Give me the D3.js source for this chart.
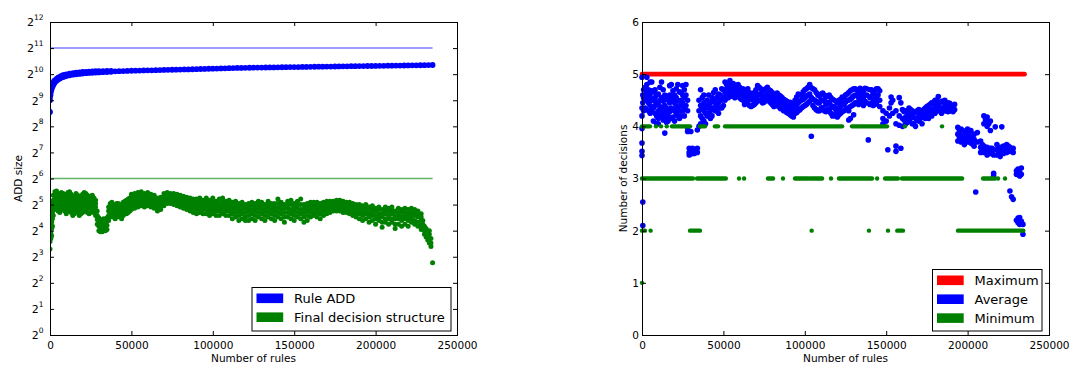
<!DOCTYPE html>
<html>
<head>
<meta charset="utf-8">
<script src="https://cdn.jsdelivr.net/npm/d3@7"></script>
<style>
  body { margin: 0; background: #fff; }
  svg { display: block; font-family: "DejaVu Sans", sans-serif; }
</style>
</head>
<body>
<svg id="chart" width="1071" height="365"></svg>
<script>
// ---- data (rules in thousands) ----
const ruleTicks = [0, 50000, 100000, 150000, 200000, 250000];
const addExponents = [0, 1, 2, 3, 4, 5, 6, 7, 8, 9, 10, 11, 12];
const decisionTicks = [0, 1, 2, 3, 4, 5, 6];

// reference lines on the left panel
const ruleAddLimit = 2048;
const finalLimit = 64;
const limitEndK = 235;

// Rule ADD size: [rules(k), [sizes]]
const ruleAdd = [
  [0, [375, 512, 560, 610]], [0.3, [590, 660]], [0.6, [640, 700]], [1, [690, 745]], [1.5, [735, 790]],
  [2, [770, 820]], [2.5, [800, 850]], [3, [825, 870]], [4, [860, 905]], [5, [890, 935]],
  [6, [915, 955]], [7, [935, 975]], [8, [950, 995]], [9, [965, 1005]], [10, [975, 1020]],
  [12, [995, 1040]], [14, [1010, 1055]], [16, [1020, 1065]], [18, [1030, 1075]], [20, [1040, 1085]],
  [22, [1050, 1090]], [24, [1058, 1096]], [26, [1062, 1100]], [28, [1068, 1106]], [30, [1072, 1110]],
  [32.5, [1080, 1112]], [35, [1084, 1116]], [37.5, [1090, 1118]], [40, [1105]], [42.5, [1108]],
  [45, [1112]], [47.5, [1116]], [50, [1122]], [52.5, [1124]], [55, [1128]], [57.5, [1131]],
  [60, [1133]], [62.5, [1135]], [65, [1139]], [67.5, [1142]], [70, [1146]], [72.5, [1148]],
  [75, [1151]], [77.5, [1155]], [80, [1158]], [82.5, [1161]], [85, [1163]], [87.5, [1167]],
  [90, [1170]], [92.5, [1174]], [95, [1177]], [97.5, [1182]], [100, [1186]], [102.5, [1189]],
  [105, [1194]], [107.5, [1197]], [110, [1200]], [112.5, [1203]], [115, [1208]], [117.5, [1210]],
  [120, [1212]], [122.5, [1215]], [125, [1216]], [127.5, [1219]], [130, [1220]], [132.5, [1223]],
  [135, [1224]], [137.5, [1226]], [140, [1229]], [142.5, [1230]], [145, [1232]], [147.5, [1235]],
  [150, [1236]], [152.5, [1238]], [155, [1241]], [157.5, [1242]], [160, [1244]], [162.5, [1247]],
  [165, [1248]], [167.5, [1250]], [170, [1253]], [172.5, [1254]], [175, [1256]], [177.5, [1259]],
  [180, [1260]], [182.5, [1262]], [185, [1265]], [187.5, [1266]], [190, [1268]], [192.5, [1271]],
  [195, [1272]], [197.5, [1273]], [200, [1276]], [202.5, [1277]], [205, [1279]], [207.5, [1282]],
  [210, [1283]], [212.5, [1285]], [215, [1288]], [217.5, [1289]], [220, [1291]], [222.5, [1294]],
  [225, [1296]], [227.5, [1298]], [230, [1301]], [232.5, [1303]], [235, [1306]]
];

// Final decision structure size: [rules(k), [sizes]]
const finalStruct = [
  [0, [9.8, 12, 13.5, 15]], [0.5, [13, 15, 17.5, 21]], [1, [14, 17, 20, 24]], [1.5, [18, 22, 26, 30, 34]],
  [2, [24, 28, 32, 36, 41]], [3, [28, 32, 36, 40, 45]], [4, [29, 33, 37, 41, 46]], [5, [27, 31, 35, 39, 43]],
  [6, [26, 30, 34, 38, 42]], [7, [28, 32, 35, 39, 44]], [8, [29, 32, 36, 40, 43]], [9, [27, 30, 34, 38, 42]],
  [10, [25, 29, 33, 37, 41]], [11, [27, 31, 35, 39, 44]], [12, [28, 32, 36, 40, 45]], [13, [26, 30, 34, 38, 42]],
  [14, [24, 28, 31, 35, 39]], [15, [25, 29, 32, 36, 40]], [16, [27, 31, 35, 39, 43]], [17, [26, 30, 34, 38, 41]],
  [18, [24, 28, 31, 35, 38]], [19, [25, 29, 33, 37, 40]], [20, [26, 30, 34, 38, 42]], [21, [28, 32, 36, 40, 44]],
  [22, [27, 31, 35, 39, 43]], [23, [26, 30, 33, 37, 41]], [24, [25, 29, 32, 36, 39]], [25, [26, 30, 34, 37, 40]],
  [26, [27, 30, 33, 37, 41]], [27, [26, 29, 32, 35, 38]], [28, [24, 27, 30, 33, 36]], [29, [19, 21.5, 24, 27]],
  [30, [16, 18, 20, 22.5]], [31, [15.5, 17.5, 19.5, 21.5]], [32, [15.5, 17, 19, 21]], [33, [16, 18, 20, 22]],
  [34, [16, 17.5, 19.5, 21.5]], [35, [16.5, 18.5, 20.5, 22.5]], [36, [21, 24, 27, 30]], [37, [23, 26, 29, 33]],
  [38, [24, 27, 30, 34]], [39, [23, 26, 29, 32]], [40, [22, 25, 28, 31]], [41, [23, 26, 29, 33]],
  [42, [24, 27, 30, 33]], [43, [23, 26, 29, 32]], [44, [22, 25, 28, 31]], [45, [24, 27, 30, 34]],
  [46, [25, 28, 31, 35]], [47, [25, 28, 32, 36]], [48, [26, 29, 33, 37]], [49, [27, 30, 34, 38]],
  [50, [28, 31, 34, 38, 42]], [52, [29, 32, 35, 39, 43]], [54, [30, 33, 36, 40, 44]], [56, [31, 34, 37, 41, 45]],
  [58, [30, 33, 36, 40, 43]], [60, [31, 34, 37, 40, 44]], [62, [30, 33, 36, 39, 42]], [64, [29, 32, 35, 38, 41]],
  [66, [27, 29, 32, 35, 38]], [68, [28, 30, 33, 36, 39]], [70, [31, 34, 37, 40, 43]], [72, [33, 35, 38, 41, 44]],
  [74, [33, 35, 38, 41, 43]], [76, [32, 35, 37, 40, 43]], [78, [31, 34, 36, 39, 42]], [80, [30, 33, 35, 38, 41]],
  [82, [29, 32, 34, 37, 40]], [84, [28, 31, 33, 36, 39]], [86, [27, 30, 32, 35, 38]], [88, [26, 29, 31, 34, 37]],
  [90, [25, 28, 31, 34, 37]], [92, [26, 29, 32, 35, 38]], [94, [25, 28, 30, 33, 36]], [96, [25, 28, 31, 34, 38]],
  [98, [24, 27, 30, 33, 36]], [100, [25, 28, 31, 34, 38]], [102, [24, 27, 29, 32, 35]], [104, [24, 27, 30, 33, 37]],
  [106, [25, 28, 31, 34, 38]], [108, [24, 27, 29, 32, 35]], [110, [24, 27, 30, 33, 36]], [112, [22, 25, 28, 31, 34]],
  [114, [23, 26, 29, 32, 35]], [116, [21, 24, 27, 30, 33]], [118, [22, 25, 28, 31, 34]], [120, [21, 23, 26, 29, 32]],
  [122, [21, 24, 27, 30, 33]], [124, [22, 25, 28, 31, 34]], [126, [21, 24, 27, 30, 33]], [128, [23, 26, 29, 32, 35]],
  [130, [22, 25, 28, 31, 34]], [132, [21, 24, 27, 29, 32]], [134, [23, 26, 29, 32, 35]], [136, [22, 25, 28, 31, 33]],
  [138, [21, 24, 27, 30, 33]], [140, [23, 26, 29, 33, 37]], [142, [22, 25, 28, 31, 34]], [144, [20, 23, 26, 29, 32]],
  [146, [23, 26, 29, 32, 35]], [148, [22, 25, 28, 32, 36]], [150, [21, 24, 27, 30, 33]], [152, [23, 26, 29, 32, 35]],
  [154, [22, 25, 28, 32, 37]], [156, [20, 23, 26, 29, 32]], [158, [21, 24, 27, 30, 33]], [160, [23, 26, 28, 31, 34]],
  [162, [24, 26, 29, 32, 34]], [164, [23, 26, 28, 31, 34]], [166, [22, 25, 28, 30, 33]], [168, [24, 27, 29, 32, 34]],
  [170, [25, 28, 30, 32, 35]], [172, [26, 28, 31, 33, 35]], [174, [27, 29, 31, 33, 35]], [176, [27, 29, 31, 34, 36]],
  [178, [27, 29, 32, 34, 36]], [180, [26, 28, 31, 33, 35]], [182, [26, 28, 30, 32, 34]], [184, [25, 27, 30, 32, 34]],
  [186, [24, 26, 29, 31, 33]], [188, [23, 25, 28, 30, 32]], [190, [22, 25, 27, 30, 32]], [192, [21, 24, 26, 29, 31]],
  [194, [22, 25, 27, 30, 32]], [196, [20, 23, 25, 28, 30]], [198, [21, 24, 26, 28, 31]], [200, [19, 22, 24, 27, 29]],
  [202, [21, 23, 25, 28, 30]], [204, [17.5, 20, 23, 25, 28]], [206, [20, 22, 25, 27, 30]], [208, [19, 22, 24, 27, 29]],
  [210, [20, 22, 25, 27, 30]], [212, [17, 19, 22, 24, 27]], [214, [19, 22, 24, 26, 29]], [216, [18, 21, 23, 26, 28]],
  [218, [19, 22, 24, 26, 29]], [220, [18, 21, 23, 25, 28]], [222, [20, 22, 24, 26, 29]], [224, [19, 21, 24, 26, 28]],
  [226, [18, 20, 23, 25, 27]], [228, [16.5, 18.5, 21, 23, 25]], [229, [17, 19, 21]], [230, [14.5, 16, 18]],
  [231, [13.5, 15, 17]], [232, [12.5, 14, 15.5]], [233, [11.5, 13, 14.5, 16]], [234, [10.5, 11.5, 13]], [235, [6.8]]
];

// Maximum number of decisions
const maxDecisions = [[0, 5], [235, 5]];

// Average number of decisions: [rules(k), [values]]
const avgDecisions = [
  [0, [4.94, 4.35, 4.2, 3.96, 3.68, 3.52, 3.44]], [0.5, [2.55, 2.1, 4.6, 4.45]], [1, [4.7, 4.55, 4.3]],
  [2, [4.75, 4.6, 4.5, 4.35]], [3, [4.94, 4.8, 4.65, 4.55]], [4, [4.7, 4.6, 4.45, 4.3]],
  [5, [4.85, 4.62, 4.55, 4.4, 4.25]], [6, [4.85, 4.68, 4.5, 4.32]], [7, [4.66, 4.5, 4.35, 4.1]],
  [8, [4.7, 4.55, 4.4, 4.25]], [9, [4.6, 4.45, 4.2, 4.05]], [10, [4.62, 4.45, 4.3, 4.15, 4.05]],
  [11, [4.75, 4.5, 4.38, 4.22]], [12, [4.85, 4.55, 4.35, 4.2]], [13, [4.7, 4.48, 4.3, 4.12]],
  [14, [4.6, 4.4, 4.25, 4.15, 3.87]], [15, [4.55, 4.35, 4.2, 4.08]], [16, [4.5, 4.3, 4.2, 4.1]],
  [17, [4.78, 4.6, 4.45, 4.28]], [18, [4.8, 4.55, 4.35, 4.15]], [19, [4.68, 4.5, 4.32, 4.18]],
  [20, [4.6, 4.45, 4.3, 4.1]], [21, [4.72, 4.55, 4.4, 4.25]], [22, [4.8, 4.5, 4.35, 4.2]],
  [23, [4.66, 4.48, 4.3, 4.15]], [24, [4.65, 4.5, 4.4, 4.2]], [25, [4.78, 4.6, 4.45, 4.3]],
  [26, [4.7, 4.55, 4.35, 4.2]], [27, [4.8, 4.6, 4.4]], [28, [4.5, 4.3, 3.97, 3.9]],
  [29, [3.58, 3.5, 3.45]], [30, [3.55, 3.47, 3.9]], [31, [3.58, 3.5]], [32, [3.52, 3.48]],
  [33, [3.56, 3.5]], [34, [3.58, 3.5, 3.93]], [35, [4.5, 4.3, 4.0]], [36, [4.7, 4.4, 4.2, 4.05]],
  [37, [4.55, 4.35, 4.15]], [38, [4.6, 4.45, 4.3, 4.1]], [39, [4.4, 4.25, 4.05]], [40, [4.5, 4.35, 4.2]],
  [41, [4.6, 4.4, 4.25]], [42, [4.45, 4.3, 4.15]], [43, [4.55, 4.35, 4.2]], [44, [4.65, 4.5, 4.35]],
  [45, [4.7, 4.45, 4.3]], [46, [4.55, 4.4, 4.3]], [47, [4.62, 4.45, 4.25]], [48, [4.6, 4.5, 4.35]],
  [49, [4.72, 4.5, 4.35]], [50, [4.7, 4.55, 4.4]], [51, [4.85, 4.65, 4.5]], [52, [4.8, 4.72, 4.6]],
  [53, [4.78, 4.68, 4.55]], [54, [4.88, 4.75, 4.66]], [55, [4.8, 4.7, 4.58]], [56, [4.82, 4.72, 4.62]],
  [57, [4.75, 4.65, 4.55]], [58, [4.78, 4.7, 4.58]], [59, [4.8, 4.68, 4.6]], [60, [4.75, 4.65, 4.55]],
  [61, [4.7, 4.62, 4.52]], [62, [4.72, 4.6, 4.5]], [63, [4.68, 4.55, 4.42]], [64, [4.7, 4.6, 4.45]],
  [65, [4.72, 4.58, 4.48]], [66, [4.65, 4.55, 4.4]], [67, [4.62, 4.52, 4.38]], [68, [4.6, 4.5, 4.4]],
  [69, [4.65, 4.5, 4.42]], [70, [4.7, 4.55, 4.45]], [71, [4.78, 4.6, 4.48]], [72, [4.75, 4.62, 4.5]],
  [73, [4.72, 4.6, 4.5]], [74, [4.68, 4.55, 4.45]], [75, [4.7, 4.58, 4.46]], [76, [4.72, 4.6, 4.5]],
  [77, [4.75, 4.62, 4.52]], [78, [4.7, 4.58, 4.48]], [79, [4.68, 4.55, 4.45]], [80, [4.65, 4.55, 4.42]],
  [81, [4.6, 4.5, 4.38]], [82, [4.62, 4.5, 4.4]], [83, [4.64, 4.52, 4.4]], [84, [4.6, 4.48, 4.38]],
  [85, [4.58, 4.46, 4.34]], [86, [4.55, 4.45, 4.35]], [87, [4.52, 4.42, 4.3]], [88, [4.5, 4.4, 4.3]],
  [89, [4.48, 4.36, 4.26]], [90, [4.45, 4.35, 4.25]], [91, [4.46, 4.34, 4.22]], [92, [4.4, 4.3, 4.2]],
  [93, [4.42, 4.28, 4.18]], [94, [4.5, 4.35, 4.25]], [95, [4.56, 4.4, 4.26]], [96, [4.62, 4.45, 4.3]],
  [97, [4.6, 4.48, 4.32]], [98, [4.6, 4.5, 4.35]], [99, [4.66, 4.52, 4.38]], [100, [4.7, 4.55, 4.4]],
  [101, [4.72, 4.58, 4.42]], [102, [4.75, 4.6, 4.45]], [103, [4.8, 4.62, 4.48]], [104, [4.74, 4.55, 3.81]],
  [105, [4.72, 4.52, 4.4]], [106, [4.7, 4.5, 4.35]], [107, [4.65, 4.48, 4.32]], [108, [4.6, 4.45, 4.3]],
  [109, [4.58, 4.45, 4.3]], [110, [4.62, 4.5, 4.35]], [111, [4.64, 4.5, 4.36]], [112, [4.6, 4.48, 4.3]],
  [113, [4.56, 4.42, 4.28]], [114, [4.58, 4.45, 4.32]], [115, [4.6, 4.46, 4.3]], [116, [4.55, 4.4, 4.25]],
  [117, [4.52, 4.36, 4.2]], [118, [4.5, 4.38, 4.22]], [119, [4.48, 4.32, 4.2]], [120, [4.45, 4.3, 4.18]],
  [121, [4.5, 4.35, 4.22]], [122, [4.52, 4.38, 4.25]], [123, [4.56, 4.44, 4.28]], [124, [4.55, 4.42, 4.3]],
  [125, [4.6, 4.46, 4.32]], [126, [4.62, 4.5, 4.35]], [127, [4.65, 4.5, 4.3, 4.12]],
  [128, [4.68, 4.52, 4.38, 4.15]], [129, [4.7, 4.55, 4.4]], [130, [4.72, 4.58, 4.42, 4.22]],
  [131, [4.72, 4.6, 4.45]], [132, [4.7, 4.6, 4.45]], [133, [4.68, 4.55, 4.42]], [134, [4.73, 4.62, 4.5]],
  [135, [4.7, 4.58, 4.44]], [136, [4.68, 4.55, 4.4]], [137, [4.73, 4.6, 4.48]], [138, [4.72, 4.6, 4.45]],
  [139, [3.74]], [140, [4.7, 4.55, 4.42]], [141, [4.7, 4.58, 4.44]], [142, [4.65, 4.52, 4.4]],
  [143, [4.68, 4.55, 4.42]], [144, [4.72, 4.58, 4.45]], [145, [4.72, 4.6, 4.5]], [146, [4.68, 4.5, 4.38]],
  [148, [4.3, 4.15, 4.05]], [150, [4.25, 4.1]], [151, [3.55]], [152, [4.2, 4.35]], [153, [4.56, 4.45]],
  [154, [4.5, 4.25]], [156, [4.3, 4.05, 3.62, 3.52]], [158, [4.2, 4.55, 4.02]], [159, [3.58, 4.45]],
  [160, [4.32, 4.15, 4.0]], [161, [4.28, 4.12]], [162, [4.3, 4.18, 4.05]], [163, [4.25, 4.08]],
  [164, [4.35, 4.2, 4.1]], [165, [4.32, 4.15]], [166, [4.3, 4.22, 4.05]], [167, [4.25, 4.05]],
  [168, [4.28, 4.15, 4.0]], [169, [4.3, 4.12]], [170, [4.32, 4.2, 4.1]], [171, [4.28, 4.15]],
  [172, [4.3, 4.22, 4.05]], [173, [4.32, 4.18]], [174, [4.35, 4.25, 4.15]], [175, [4.38, 4.22]],
  [176, [4.4, 4.3, 4.15]], [177, [4.42, 4.28]], [178, [4.45, 4.32, 4.2]], [179, [4.46, 4.3]],
  [180, [4.5, 4.38, 4.25]], [181, [4.5, 4.35]], [182, [4.57, 4.42, 4.3]], [183, [4.45, 4.3]],
  [184, [4.48, 4.35, 4.25]], [185, [4.48, 4.34]], [186, [4.5, 4.4, 4.3]], [187, [4.42, 4.3]],
  [188, [4.45, 4.35, 4.28]], [189, [4.44, 4.32]], [190, [4.4, 4.3]], [191, [4.4, 4.28]],
  [192, [4.42, 4.32]], [194, [3.98, 3.85, 3.72]], [195, [3.9, 3.78]], [196, [3.95, 3.82, 3.7]],
  [197, [3.92, 3.75]], [198, [3.9, 3.78, 3.65]], [199, [3.85, 3.72]], [200, [3.95, 3.8, 3.7]],
  [201, [3.88, 3.74]], [202, [3.92, 3.78, 3.68]], [203, [3.8, 3.66]], [204, [3.85, 3.75, 3.62]],
  [205, [2.74]], [206, [3.88, 3.7]], [208, [3.72, 3.6, 3.5]], [209, [3.65, 3.55]],
  [210, [4.2, 4.05, 3.62, 3.5]], [211, [4.12, 3.55]], [212, [4.18, 4.0, 3.6, 3.45]], [213, [4.05, 3.52]],
  [214, [4.1, 3.92, 3.58, 3.48]], [215, [3.58, 3.48]], [216, [3.55, 3.45, 3.1, 3.05]], [217, [3.99]],
  [218, [3.65, 3.55, 3.45]], [219, [3.58, 3.48]], [220, [3.6, 3.5, 3.42]], [221, [3.99]],
  [222, [3.62, 3.55, 3.48]], [223, [3.58, 3.5]], [224, [3.65, 3.58, 3.5]], [225, [3.62, 3.52]],
  [226, [3.6, 3.52, 2.76]], [227, [2.65]], [228, [3.58, 3.5, 2.6]], [230, [3.15, 3.08, 2.2]],
  [231, [3.18, 3.1, 2.24, 2.15]], [232, [3.12, 3.05, 2.25, 2.12]], [233, [3.2, 3.08, 2.18]], [234, [2.12, 1.93]]
];

// Minimum number of decisions, as runs of consecutive points: [from(k), to(k), value]
const minRuns = [
  [0, 4.9, 4], [8.6, 8.6, 4], [11.7, 11.7, 4], [15.2, 15.2, 4], [18.4, 29.5, 4], [35.6, 38.7, 4],
  [44.8, 46.7, 4], [51, 122.9, 4], [129, 150.5, 4], [161.5, 161.5, 4], [184.3, 184.3, 4],
  [0, 31.3, 3], [33.8, 51.5, 3], [59.6, 59.6, 3], [62.7, 62.7, 3], [77.4, 80.5, 3], [86.6, 86.6, 3],
  [94, 102, 3], [103.2, 110.6, 3], [116.1, 116.1, 3], [121, 141.3, 3], [144.4, 144.4, 3],
  [149.3, 157.2, 3], [159.7, 196.6, 3], [209.5, 216.8, 3], [218.7, 218.7, 3], [223, 223, 3],
  [0, 1.8, 2], [5.3, 5.3, 2], [29.5, 35.6, 2], [104.2, 104.2, 2], [139.4, 139.4, 2], [151.1, 151.1, 2],
  [156.8, 160.3, 2], [194.1, 234.2, 2],
  [0, 0, 1]
];

const BLUE = '#0000ff', GREEN = '#008000', RED = '#ff0000';

// ---- layout ----
const svg = d3.select('#chart');
const plotTop = 22, plotBottom = 335;

const xA = d3.scaleLinear().domain([0, 250000]).range([50, 457]);
const yA = d3.scaleLog().base(2).domain([1, 4096]).range([plotBottom, plotTop]);
const xB = d3.scaleLinear().domain([0, 250000]).range([642, 1049]);
const yB = d3.scaleLinear().domain([0, 6]).range([plotBottom, plotTop]);

const flat = cols => cols.flatMap(([k, vals]) => vals.map(v => [k * 1000, v]));

// frame with inward ticks on all four sides
function frame(x, y, yTicks) {
  const [x0, x1] = x.range();
  const g = svg.append('g');
  const tick = ax => ax.tickSizeInner(-4).tickSizeOuter(0);

  const bottom = g.append('g').attr('transform', `translate(0,${plotBottom})`)
    .call(tick(d3.axisBottom(x)).tickValues(ruleTicks).tickPadding(7).tickFormat(d3.format('d')));
  g.append('g').attr('transform', `translate(0,${plotTop})`)
    .call(tick(d3.axisTop(x)).tickValues(ruleTicks).tickFormat(''));
  const left = g.append('g').attr('transform', `translate(${x0},0)`)
    .call(tick(d3.axisLeft(y)).tickValues(yTicks).tickPadding(3).tickFormat(d3.format('d')));
  g.append('g').attr('transform', `translate(${x1},0)`)
    .call(tick(d3.axisRight(y)).tickValues(yTicks).tickFormat(''));

  g.selectAll('.domain').remove();
  g.selectAll('.tick line').attr('stroke', '#000');
  g.selectAll('g').attr('font-family', '"DejaVu Sans", sans-serif').attr('font-size', 10.5);

  g.append('rect')
    .attr('x', x0 + 0.5).attr('y', plotTop + 0.5)
    .attr('width', x1 - x0).attr('height', plotBottom - plotTop)
    .attr('fill', 'none').attr('stroke', '#000').attr('stroke-width', 1);
  return { g, left, bottom };
}

function axisTitles(x, xText, yText, yx) {
  const [x0, x1] = x.range();
  svg.append('text')
    .attr('x', (x0 + x1) / 2).attr('y', 362)
    .attr('text-anchor', 'middle').attr('font-size', 10.5)
    .text(xText);
  svg.append('text')
    .attr('transform', `translate(${yx},${(plotTop + plotBottom) / 2}) rotate(-90)`)
    .attr('text-anchor', 'middle').attr('font-size', 10.5)
    .text(yText);
}

function legend(x, y, w, h, items) {
  const g = svg.append('g').attr('transform', `translate(${x},${y})`);
  g.append('rect').attr('x', 0.5).attr('y', 0.5).attr('width', w).attr('height', h)
    .attr('fill', '#fff').attr('stroke', '#000').attr('stroke-width', 1);
  items.forEach(([label, color], i) => {
    const ry = 6.5 + i * 18.9;
    g.append('rect').attr('x', 5).attr('y', ry).attr('width', 26.7).attr('height', 9.6).attr('fill', color);
    g.append('text').attr('x', 42.5).attr('y', ry + 9.6).attr('font-size', 13).text(label);
  });
}

// ---- left panel: ADD size ----
svg.append('clipPath').attr('id', 'clipA').append('rect')
  .attr('x', 50).attr('y', plotTop).attr('width', 408).attr('height', plotBottom - plotTop);

const pA = svg.append('g').attr('clip-path', 'url(#clipA)');
pA.append('line')
  .attr('x1', xA(0)).attr('x2', xA(limitEndK * 1000))
  .attr('y1', yA(ruleAddLimit)).attr('y2', yA(ruleAddLimit))
  .attr('stroke', BLUE).attr('stroke-opacity', 0.5).attr('stroke-width', 1.5);
pA.append('line')
  .attr('x1', xA(0)).attr('x2', xA(limitEndK * 1000))
  .attr('y1', yA(finalLimit)).attr('y2', yA(finalLimit))
  .attr('stroke', GREEN).attr('stroke-opacity', 0.6).attr('stroke-width', 1.5);

pA.append('g').selectAll('circle').data(flat(ruleAdd)).join('circle')
  .attr('cx', d => xA(d[0])).attr('cy', d => yA(d[1])).attr('r', 2.9).attr('fill', BLUE);
pA.append('g').selectAll('circle').data(flat(finalStruct)).join('circle')
  .attr('cx', d => xA(d[0])).attr('cy', d => yA(d[1])).attr('r', 2.5).attr('fill', GREEN);

const fA = frame(xA, yA, addExponents.map(e => Math.pow(2, e)));
fA.left.selectAll('.tick text').remove();
fA.left.selectAll('.tick').each(function (d) {
  const t = d3.select(this).append('text')
    .attr('x', -6.5).attr('dy', '0.36em').attr('text-anchor', 'end').attr('fill', '#000');
  t.append('tspan').attr('font-size', 11).text('2');
  t.append('tspan').attr('font-size', 7.5).attr('dy', -6.5).text(Math.round(Math.log2(d)));
});
axisTitles(xA, 'Number of rules', 'ADD size', 21.5);
legend(251.5, 287, 199, 43.5, [['Rule ADD', BLUE], ['Final decision structure', GREEN]]);

// ---- right panel: number of decisions ----
const pB = svg.append('g');
pB.append('path')
  .datum(maxDecisions)
  .attr('d', d3.line().x(d => xB(d[0] * 1000)).y(d => yB(d[1])))
  .attr('stroke', RED).attr('stroke-width', 4.6).attr('stroke-linecap', 'round').attr('fill', 'none');

pB.append('g').selectAll('circle').data(flat(avgDecisions)).join('circle')
  .attr('cx', d => xB(d[0])).attr('cy', d => yB(d[1])).attr('r', 2.8).attr('fill', BLUE);

pB.append('g').selectAll('line').data(minRuns).join('line')
  .attr('x1', d => xB(d[0] * 1000)).attr('x2', d => xB(d[1] * 1000))
  .attr('y1', d => yB(d[2])).attr('y2', d => yB(d[2]))
  .attr('stroke', GREEN).attr('stroke-width', 4.4).attr('stroke-linecap', 'round');

frame(xB, yB, decisionTicks);
axisTitles(xB, 'Number of rules', 'Number of decisions', 626.5);
legend(932, 269, 109.5, 61.5, [['Maximum', RED], ['Average', BLUE], ['Minimum', GREEN]]);
</script>
</body>
</html>
